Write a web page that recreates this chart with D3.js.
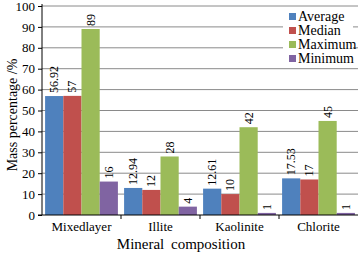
<!DOCTYPE html>
<html><head><meta charset="utf-8">
<script src="https://cdn.jsdelivr.net/npm/d3@7"></script>
<style>body{margin:0;background:#fff}svg{display:block}</style>
</head><body><svg id="c" width="360" height="253" font-family="Liberation Serif"></svg>
<script>
const categories = ["Mixedlayer","Illite","Kaolinite","Chlorite"];
const seriesNames = ["Average","Median","Maximum","Minimum"];
const average = [56.92, 12.94, 12.61, 17.53];
const median = [57, 12, 10, 17];
const maximum = [89, 28, 42, 45];
const minimum = [16, 4, 1, 1];
const labelAverage = ["56.92","12.94","12.61","17.53"];
const labelMedian = ["57","12","10","17"];
const labelMaximum = ["89","28","42","45"];
const labelMinimum = ["16","4","1","1"];
const yTicks = [0,10,20,30,40,50,60,70,80,90,100];
const colors = ["#4F81BD","#C0504D","#9BBB59","#8064A2"];

const FONT = "Liberation Serif";
const series = [average, median, maximum, minimum];
const labels = [labelAverage, labelMedian, labelMaximum, labelMinimum];
const svg = d3.select("#c");
const L = 42, R = 358, T = 6, B = 215;
const x = d3.scaleBand().domain(categories).range([L, R]).paddingInner(0).paddingOuter(0);
const y = d3.scaleLinear().domain([0, 100]).range([B, T]);
const sub = d3.scaleBand().domain(seriesNames).range([0, x.bandwidth()]).paddingOuter(0.17).paddingInner(0);

svg.append("g").selectAll("line").data(yTicks.filter(d => d > 0)).join("line")
  .attr("x1", L).attr("x2", R).attr("y1", d => y(d)).attr("y2", d => y(d))
  .attr("stroke", "#8a8a8a").attr("stroke-width", 1);

seriesNames.forEach((s, i) => {
  const g = svg.append("g");
  g.selectAll("rect").data(categories).join("rect")
    .attr("x", c => x(c) + sub(s))
    .attr("width", sub.bandwidth())
    .attr("y", (c, j) => y(series[i][j]))
    .attr("height", (c, j) => B - y(series[i][j]))
    .attr("fill", colors[i]);
  g.selectAll("text").data(categories).join("text")
    .attr("transform", (c, j) => `translate(${x(c) + sub(s) + sub.bandwidth()/2 + 4},${y(series[i][j]) - 3}) rotate(-90)`)
    .attr("font-family", FONT).attr("font-size", 12).attr("text-anchor", "start")
    .text((c, j) => labels[i][j]);
});

const ya = svg.append("g").attr("transform", `translate(${L},0)`)
  .call(d3.axisLeft(y).tickValues(yTicks).tickSize(4).tickPadding(3));
ya.attr("font-family", FONT).attr("font-size", 13);
ya.select(".domain").attr("stroke", "#000").attr("d", `M0,${T - 2}V${B}`);
ya.selectAll("text").attr("font-family", FONT).attr("fill", "#000");
ya.selectAll(".tick line").attr("stroke", "#000");

const xa = svg.append("g").attr("transform", `translate(0,${B})`)
  .call(d3.axisBottom(x).tickSize(0).tickPadding(7));
xa.attr("font-family", FONT).attr("font-size", 13);
xa.select(".domain").attr("stroke", "#000").attr("d", `M${L-4},0H${R}`);
xa.selectAll("text").attr("font-family", FONT).attr("fill", "#000");
svg.append("g").selectAll("line").data([1,2,3]).join("line")
  .attr("x1", i => x(categories[i])).attr("x2", i => x(categories[i]))
  .attr("y1", B).attr("y2", B + 4).attr("stroke", "#000");

svg.append("text").attr("x", 181).attr("y", 249).attr("text-anchor", "middle")
  .attr("font-family", FONT).attr("font-size", 15).attr("word-spacing", 3).text("Mineral composition");
svg.append("text").attr("transform", "translate(17,115) rotate(-90)").attr("text-anchor", "middle")
  .attr("font-family", FONT).attr("font-size", 14).text("Mass percentage /%");

const lg = svg.append("g").attr("transform", "translate(283,9)");
lg.append("rect").attr("x", 0).attr("y", 0).attr("width", 70).attr("height", 58).attr("fill", "#fff");
seriesNames.forEach((s, i) => {
  lg.append("rect").attr("x", 6).attr("y", 4 + i*14).attr("width", 7).attr("height", 7).attr("fill", colors[i]);
  lg.append("text").attr("x", 15).attr("y", 12 + i*14).attr("font-family", FONT).attr("font-size", 14).text(s);
});
</script></body></html>
